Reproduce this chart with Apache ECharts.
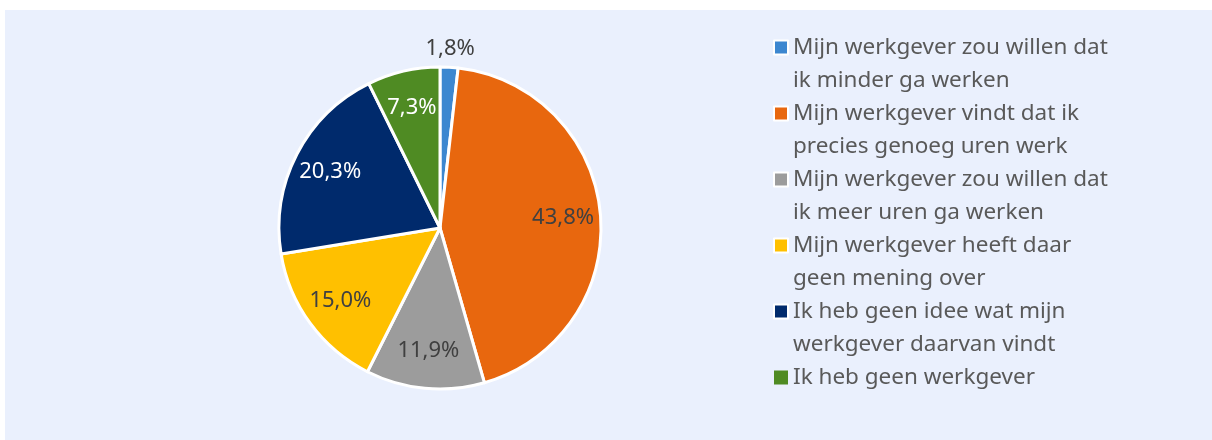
<!DOCTYPE html>
<html>
<head>
<meta charset="utf-8">
<script src="https://cdn.jsdelivr.net/npm/echarts@6/dist/echarts.min.js"></script>
<style>
  html, body { margin: 0; padding: 0; background: #ffffff; }
  #panel { position: absolute; left: 5px; top: 10px; width: 1207px; height: 430px; background: #EAF0FD; }
  #chart { position: absolute; left: 0; top: 0; width: 1212px; height: 440px; }
</style>
</head>
<body>
<div id="panel"></div>
<div id="chart"></div>
<script>
// Answer categories (line breaks as shown in the legend)
const categories = [
  'Mijn werkgever zou willen dat\nik minder ga werken',
  'Mijn werkgever vindt dat ik\nprecies genoeg uren werk',
  'Mijn werkgever zou willen dat\nik meer uren ga werken',
  'Mijn werkgever heeft daar\ngeen mening over',
  'Ik heb geen idee wat mijn\nwerkgever daarvan vindt',
  'Ik heb geen werkgever'
];
// Share of respondents, in percent
const shares = [1.8, 43.8, 11.9, 15.0, 20.3, 7.3];

const sliceColors = ['#3C87D0', '#E8670E', '#9C9C9C', '#FFC000', '#002A6C', '#4F8B23'];
const labelColors = ['#404040', '#404040', '#404040', '#404040', '#FFFFFF', '#FFFFFF'];

const FONT = 'Noto Sans';
const fmtPct = p => p.value.toFixed(1).replace('.', ',') + '%';

const chart = echarts.init(document.getElementById('chart'), null, { renderer: 'canvas' });

const baseData = categories.map((name, i) => ({
  name: name,
  value: shares[i],
  itemStyle: { color: sliceColors[i] }
}));

// transparent ring used only to place the value labels at a given radius
function labelRing(radius, showFn) {
  return {
    type: 'pie',
    center: [440, 228],
    radius: radius,
    startAngle: 90,
    silent: true,
    legendHoverLink: false,
    avoidLabelOverlap: false,
    emphasis: { disabled: true },
    itemStyle: { color: 'rgba(0,0,0,0)', borderWidth: 0 },
    labelLine: { show: false },
    label: {
      show: true,
      position: 'inside',
      fontFamily: FONT,
      fontSize: 22,
      formatter: fmtPct
    },
    data: categories.map((name, i) => ({
      name: name,
      value: shares[i],
      label: { show: showFn(i), color: labelColors[i] }
    }))
  };
}

const lineCount = name => name.split('\n').length;

chart.setOption({
  animation: false,
  legend: {
    orient: 'vertical',
    left: 773,
    top: -2,
    padding: 0,
    itemGap: -33,
    itemWidth: 14,
    itemHeight: 14,
    icon: 'rect',
    selectedMode: false,
    itemStyle: { borderColor: '#FFFFFF', borderWidth: 2 },
    // three-line text block centred on the marker, so the marker sits
    // level with the first line of every entry
    formatter: name => lineCount(name) > 1 ? ' \n' + name : ' \n' + name + '\n ',
    textStyle: {
      fontFamily: FONT,
      fontSize: 22.5,
      lineHeight: 33,
      color: '#595959'
    },
    data: categories.map(name => ({
      name: name,
      itemStyle: lineCount(name) > 1 ? undefined : { borderWidth: 0 }
    }))
  },
  series: [
    {
      type: 'pie',
      center: [440, 228],
      radius: 161,
      startAngle: 90,
      itemStyle: { borderColor: '#FFFFFF', borderWidth: 3 },
      label: { show: false },
      labelLine: { show: false },
      emphasis: { scale: false },
      data: baseData
    },
    labelRing([80, 161], i => i !== 0),
    labelRing([161, 193], i => i === 0)
  ]
});
</script>
</body>
</html>
